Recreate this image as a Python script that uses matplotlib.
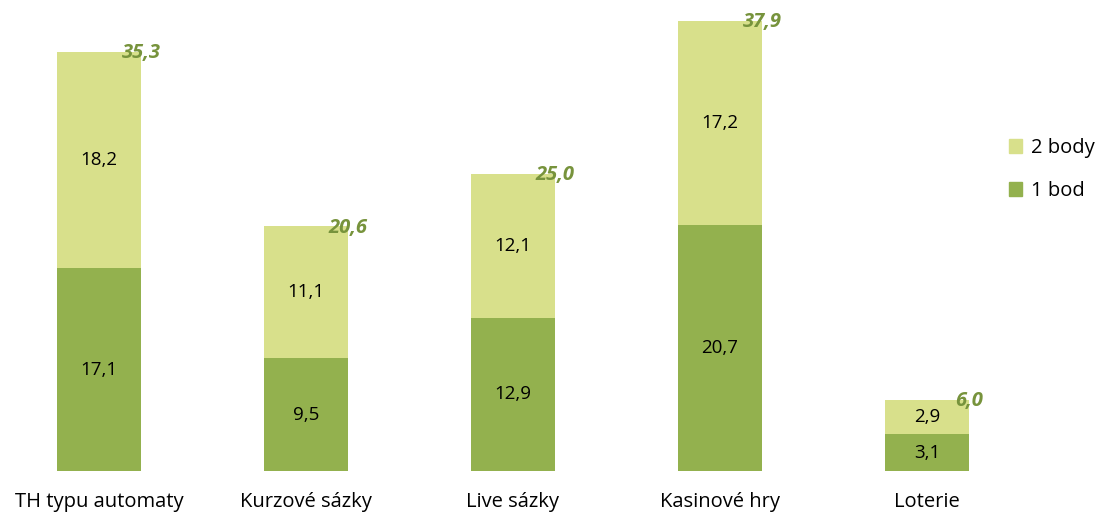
import matplotlib
matplotlib.use("Agg")
import matplotlib.pyplot as plt
from matplotlib.patches import Patch
import numpy as np

categories = ["TH typu automaty", "Kurzové sázky", "Live sázky", "Kasinové hry", "Loterie"]
one_point = [17.1, 9.5, 12.9, 20.7, 3.1]
two_points = [18.2, 11.1, 12.1, 17.2, 2.9]
totals = [35.3, 20.6, 25.0, 37.9, 6.0]

dark_green = "#93B14E"
light_green = "#D8E08B"
total_color = "#77933C"

plt.rcParams["font.family"] = ["Open Sans", "DejaVu Sans"]

fig = plt.figure(figsize=(10.95, 5.15), dpi=100)
ax = fig.add_axes([0.0, 44 / 515, 1035 / 1095, 471 / 515])

x = np.arange(len(categories))
width = 84 / 207
ax.bar(x, one_point, width, color=dark_green, label="1 bod")
ax.bar(x, two_points, width, bottom=one_point, color=light_green, label="2 body")

def fmt(v):
    return f"{v:.1f}".replace(".", ",")

for i in range(len(categories)):
    ax.text(x[i], one_point[i] / 2, fmt(one_point[i]), ha="center", va="center",
            fontsize=13.5, color="black")
    ax.text(x[i], one_point[i] + two_points[i] / 2, fmt(two_points[i]), ha="center",
            va="center", fontsize=13.5, color="black")
    ax.text(x[i] + width / 2, totals[i] - 0.1, fmt(totals[i]), ha="center", va="center",
            fontsize=14.5, fontweight="bold", fontstyle="italic", color=total_color)

ax.set_xlim(-99 / 207, -99 / 207 + 1035 / 207)
ax.set_ylim(0, 471 / 11.87)
ax.set_xticks(x)
ax.set_xticklabels(categories, fontsize=14.5)
ax.tick_params(axis="x", length=0, pad=15)
ax.set_yticks([])
for s in ax.spines.values():
    s.set_visible(False)

handles = [Patch(color=light_green, label="2 body"), Patch(color=dark_green, label="1 bod")]
fig.legend(handles=handles, loc="upper left", bbox_to_anchor=(995 / 1095, 1 - 124 / 515),
           frameon=False, fontsize=14.5, handlelength=0.65, handleheight=0.65,
           handletextpad=0.45, labelspacing=1.15, borderaxespad=0.3)

fig.savefig("out.png", dpi=100)
